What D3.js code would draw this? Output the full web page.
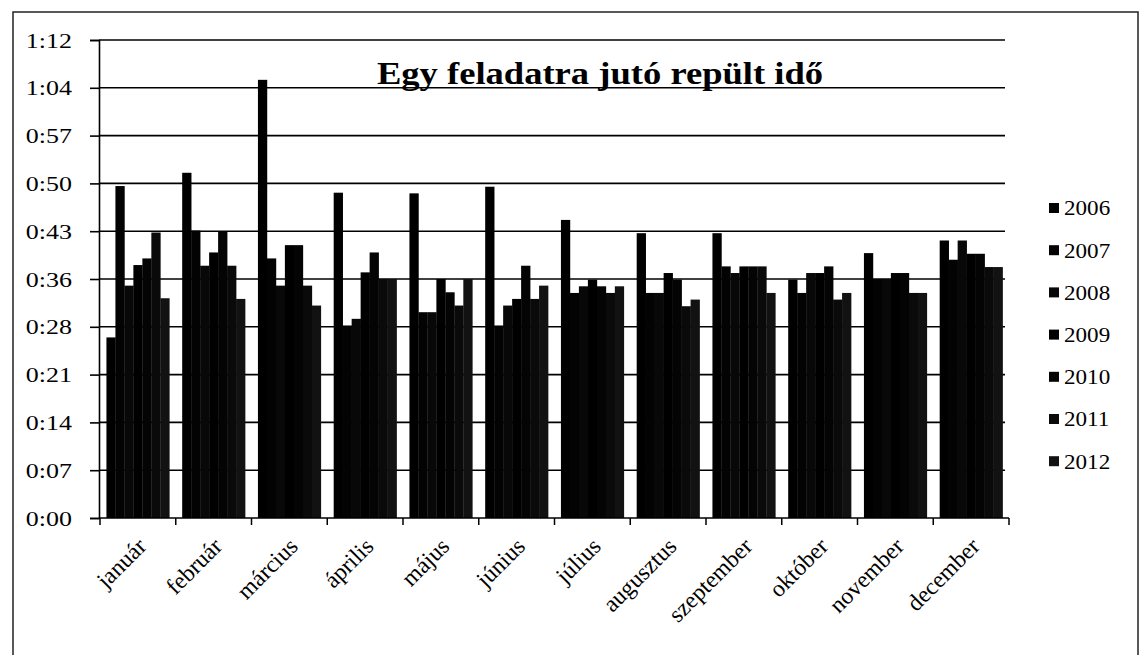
<!DOCTYPE html>
<html>
<head>
<meta charset="utf-8">
<script src="https://cdn.jsdelivr.net/npm/d3@7"></script>
<style>
  body { margin: 0; background: #fff; }
  text { font-family: "Liberation Serif", "Times New Roman", serif; fill: #000; }
</style>
</head>
<body>
<div id="container"></div>
<script>
// data, minutes per task
const months = ["január","február","március","április","május","június","július","augusztus","szeptember","október","november","december"]
const years = ["2006","2007","2008","2009","2010","2011","2012"]
const y2006 = [27.2, 52.0, 66.0, 49.0, 48.9, 49.9, 44.9, 42.9, 42.9, 35.9, 39.9, 41.8]
const y2007 = [50.0, 43.3, 39.1, 29.0, 31.0, 29.0, 33.9, 33.9, 37.9, 33.9, 36.0, 38.9]
const y2008 = [35.0, 38.0, 35.0, 30.0, 31.0, 32.0, 34.9, 33.9, 36.9, 36.9, 36.0, 41.8]
const y2009 = [38.1, 40.0, 41.1, 37.0, 36.0, 33.0, 35.9, 36.9, 37.9, 36.9, 36.9, 39.8]
const y2010 = [39.1, 43.2, 41.1, 40.0, 34.0, 38.0, 34.9, 35.9, 37.9, 37.9, 36.9, 39.8]
const y2011 = [43.0, 38.0, 35.0, 36.0, 32.0, 33.0, 33.9, 31.9, 37.9, 32.9, 33.9, 37.8]
const y2012 = [33.1, 33.0, 32.0, 36.0, 36.0, 35.0, 34.9, 32.9, 33.9, 33.9, 33.9, 37.8]
const series = [y2006, y2007, y2008, y2009, y2010, y2011, y2012]
const tickValues = [0, 7.2, 14.4, 21.6, 28.8, 36, 43.2, 50.4, 57.6, 64.8, 72]
const tickLabels = ["0:00","0:07","0:14","0:21","0:28","0:36","0:43","0:50","0:57","1:04","1:12"]
const title = "Egy feladatra jutó repült idő"

const width = 1144, height = 655
// the scan is a bit wider than tall, text gets a small horizontal stretch
const stretch = 1.18

const svg = d3.create("svg")
  .attr("width", width)
  .attr("height", height)
container.append(svg.node())

// outer chart frame, runs off the bottom of the scan
svg.append("rect")
  .attr("x", 13).attr("y", 12)
  .attr("width", 1125).attr("height", 660)
  .style("fill", "none").style("stroke", "#222").style("stroke-width", 1.5)

const plot = {left: 99, right: 1009, top: 40, bottom: 518}

const x = d3.scaleBand()
  .domain(months)
  .range([plot.left + 1, plot.right])

const xi = d3.scaleBand()
  .domain(years)
  .range([x.bandwidth() * 0.085, x.bandwidth() * 0.915])

const y = d3.scaleLinear()
  .domain([0, 72])
  .range([plot.bottom, plot.top])

// gridlines
svg.selectAll(".grid")
  .data(tickValues.slice(1))
  .join("line")
  .attr("class", "grid")
  .attr("x1", plot.left)
  .attr("x2", 1005)
  .attr("y1", d => y(d))
  .attr("y2", d => y(d))
  .style("stroke", "#000")
  .style("stroke-width", 1.6)

const fills = ["#000", "#030303", "#080808", "#000", "#040404", "#0a0a0a", "#121212"]

const flat = []
months.forEach((m, i) => {
  years.forEach((yr, j) => flat.push({m, yr, j, v: series[j][i]}))
})

svg.selectAll(".bar")
  .data(flat)
  .join("rect")
  .attr("class", "bar")
  .attr("x", d => x(d.m) + xi(d.yr))
  .attr("y", d => y(d.v))
  .attr("width", xi.bandwidth() + 0.3)
  .attr("height", d => y(0) - y(d.v))
  .style("fill", d => fills[d.j])

// y axis (tick label offset = tickSize + padding, then stretched)
const yAxis = d3.axisLeft(y)
  .tickValues(tickValues)
  .tickFormat((d, i) => tickLabels[i])
  .tickSize(9)
  .tickPadding(13.9)
const gy = svg.append("g")
  .attr("transform", `translate(${plot.left},0)`)
  .call(yAxis)
gy.select(".domain").style("stroke", "#000").style("stroke-width", 1.6)
gy.selectAll(".tick line").style("stroke", "#000").style("stroke-width", 1.6)
gy.selectAll("text")
  .attr("transform", `scale(${stretch},1)`)
  .style("font-size", "22px")
  .style("font-family", "Liberation Serif, serif")

// x axis: ticks between categories
const gx = svg.append("g")
gx.append("line")
  .attr("x1", plot.left).attr("x2", plot.right)
  .attr("y1", plot.bottom).attr("y2", plot.bottom)
  .style("stroke", "#000").style("stroke-width", 1.6)
gx.selectAll(".xt")
  .data(months.concat(["end"]))
  .join("line")
  .attr("class", "xt")
  .attr("x1", d => d === "end" ? plot.right : x(d))
  .attr("x2", d => d === "end" ? plot.right : x(d))
  .attr("y1", plot.bottom)
  .attr("y2", plot.bottom + 7)
  .style("stroke", "#000").style("stroke-width", 1.5)

gx.selectAll(".xl")
  .data(months)
  .join("text")
  .attr("class", "xl")
  .attr("transform", d => `translate(${x(d) + x.bandwidth() / 2 + 4},${plot.bottom + 24}) rotate(-45)`)
  .attr("text-anchor", "end")
  .attr("dy", "0.35em")
  .style("font-size", "23.5px")
  .text(d => d)

// title
svg.append("text")
  .attr("transform", `translate(600,84) scale(${stretch},1)`)
  .attr("text-anchor", "middle")
  .style("font-size", "31px")
  .style("font-weight", "bold")
  .text(title)

// legend
const lg = svg.append("g")
  .selectAll("g")
  .data(years)
  .join("g")
  .attr("transform", (d, i) => `translate(1049,${208 + i * 42.2})`)
lg.append("rect")
  .attr("x", 0).attr("y", -5)
  .attr("width", 10).attr("height", 10)
  .style("fill", (d, i) => fills[i])
lg.append("text")
  .attr("transform", `translate(15,0) scale(1.1,1)`)
  .attr("dy", "0.35em")
  .style("font-size", "21px")
  .text(d => d)
</script>
</body>
</html>
